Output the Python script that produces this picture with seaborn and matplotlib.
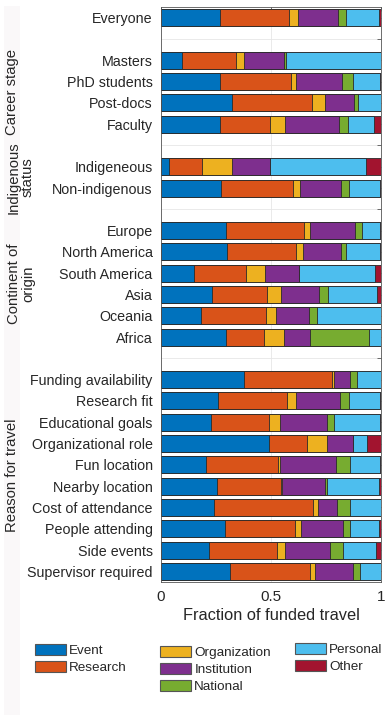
import numpy as np
import pandas as pd
import matplotlib
matplotlib.use('Agg')
import matplotlib.pyplot as plt
import matplotlib.transforms as mtransforms
from matplotlib.patches import Patch, Rectangle
import seaborn as sns

# Row labels, top to bottom (None = empty spacer row)
rows = [
    'Everyone', None,
    'Masters', 'PhD students', 'Post-docs', 'Faculty', None,
    'Indigeneous', 'Non-indigenous', None,
    'Europe', 'North America', 'South America', 'Asia', 'Oceania', 'Africa', None,
    'Funding availability', 'Research fit', 'Educational goals', 'Organizational role',
    'Fun location', 'Nearby location', 'Cost of attendance', 'People attending',
    'Side events', 'Supervisor required',
]

sources = ['Event', 'Research', 'Organization', 'Institution', 'National', 'Personal', 'Other']
colors = ['#0072BD', '#D95319', '#EDB120', '#7E2F8E', '#77AC30', '#4DBEEE', '#A2142F']

# fractions per source (same order as the non-empty rows)
event        = [0.270, 0.094, 0.270, 0.324, 0.267, 0.036, 0.274, 0.297, 0.302, 0.152, 0.233, 0.183, 0.294,
                0.377, 0.261, 0.226, 0.492, 0.206, 0.253, 0.242, 0.292, 0.217, 0.314]
research     = [0.314, 0.245, 0.323, 0.364, 0.230, 0.152, 0.324, 0.355, 0.312, 0.233, 0.250, 0.292, 0.176,
                0.403, 0.311, 0.267, 0.173, 0.324, 0.294, 0.450, 0.318, 0.309, 0.365]
organization = [0.041, 0.039, 0.021, 0.058, 0.068, 0.136, 0.033, 0.026, 0.033, 0.088, 0.064, 0.048, 0.089,
                0.008, 0.042, 0.050, 0.091, 0.012, 0.003, 0.023, 0.027, 0.039, 0.020]
institution  = [0.182, 0.179, 0.208, 0.133, 0.245, 0.170, 0.188, 0.206, 0.173, 0.153, 0.171, 0.147, 0.118,
                0.073, 0.200, 0.211, 0.118, 0.252, 0.195, 0.086, 0.191, 0.202, 0.176]
national     = [0.033, 0.011, 0.053, 0.018, 0.038, 0.000, 0.036, 0.032, 0.020, 0.000, 0.042, 0.036, 0.267,
                0.032, 0.042, 0.035, 0.000, 0.067, 0.012, 0.059, 0.030, 0.062, 0.032]
personal     = [0.153, 0.432, 0.121, 0.103, 0.121, 0.438, 0.139, 0.080, 0.156, 0.347, 0.220, 0.292, 0.056,
                0.108, 0.138, 0.208, 0.064, 0.133, 0.236, 0.139, 0.133, 0.148, 0.094]
other        = [0.008, 0.000, 0.005, 0.000, 0.030, 0.068, 0.005, 0.005, 0.005, 0.027, 0.020, 0.000, 0.000,
                0.000, 0.006, 0.005, 0.062, 0.006, 0.008, 0.000, 0.008, 0.023, 0.000]

groups = [('Career stage', 2, 5), ('Indigenous\nstatus', 7, 8),
          ('Continent of\norigin', 10, 15), ('Reason for travel', 17, 26)]

# unique placeholder names for the spacer rows so they keep their slot
order = []
k = 0
for r in rows:
    if r is None:
        k += 1
        order.append(' ' * k)
    else:
        order.append(r)
labels = [r for r in rows if r is not None]

df = pd.DataFrame(dict(zip(sources, [event, research, organization, institution,
                                     national, personal, other])), index=labels)
df = df.div(df.sum(axis=1), axis=0)
cum = df.cumsum(axis=1)
cum['row'] = cum.index

sns.set_theme(style='white')
plt.rcParams['font.family'] = ['Liberation Sans', 'DejaVu Sans']
txt = '#262626'

fig = plt.figure(figsize=(3.87, 7.21), dpi=100)
ax = fig.add_axes([161 / 387, 1 - 582 / 721, 220 / 387, 575 / 721])

# draw cumulative bars from the widest down so each layer shows its segment
for src, col in reversed(list(zip(sources, colors))):
    sns.barplot(data=cum, x=src, y='row', order=order, orient='h', color=col,
                width=0.8, edgecolor='#2a2a2a', linewidth=0.6, saturation=1, ax=ax)

ax.set_xlim(0, 1)
ax.set_ylim(len(order) - 0.5, -0.5)
ax.set_xticks([0, 0.5, 1])
ax.set_xticklabels(['0', '0.5', '1'])
ax.set_yticks(range(len(order)))
ax.set_yticklabels([r if r else '' for r in rows])
ax.set_ylabel('')
ax.set_xlabel('Fraction of funded travel', fontsize=11.8, color=txt, labelpad=3)
ax.tick_params(axis='both', direction='in', length=3, width=0.6, color='#555555',
               labelsize=10.3, labelcolor=txt, top=True, right=True, pad=6)
ax.tick_params(axis='x', labelsize=11, pad=6)
ax.grid(True, color='#e6e6e6', linewidth=0.6)
ax.set_axisbelow(True)
for sp in ax.spines.values():
    sp.set_color('#555555')
    sp.set_linewidth(0.6)

# group labels on the left
tr = mtransforms.blended_transform_factory(fig.transFigure, ax.transData)
for name, a, b in groups:
    ax.text(21 / 387 if '\n' in name else 12 / 387, (a + b) / 2, name, transform=tr,
            rotation=90, ha='center', va='center', fontsize=10.7, color=txt,
            multialignment='center', linespacing=1.0)

# faint strip at far left
fig.patches.append(Rectangle((4 / 387, 6 / 721), 16 / 387, 709 / 721,
                             transform=fig.transFigure, facecolor='#faf8f9',
                             edgecolor='none', zorder=-1))

handles = [Patch(facecolor=c, edgecolor='#555555', linewidth=0.8) for c in colors]
cols = [([0, 1], 35, 644), ([2, 3, 4], 160, 646), ([5, 6], 295, 643)]
for idx, xpx, ypx in cols:
    fig.legend([handles[i] for i in idx], [sources[i] for i in idx],
               loc='upper left', bbox_to_anchor=(xpx / 387, 1 - ypx / 721),
               frameon=False, fontsize=9.7, handlelength=2.3, handleheight=0.9,
               handletextpad=0.25, labelspacing=0.28, borderpad=0, borderaxespad=0,
               labelcolor=txt)

fig.savefig('out.png', dpi=100)
